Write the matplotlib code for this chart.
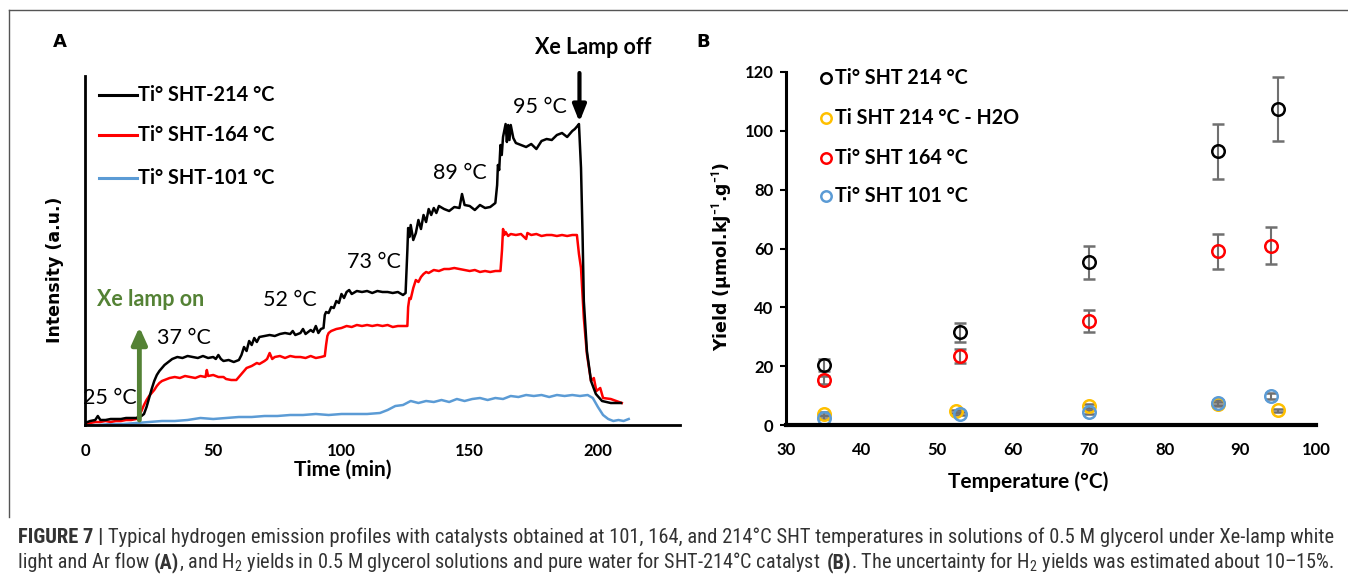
import numpy as np
import matplotlib
matplotlib.use("Agg")
import matplotlib.pyplot as plt
from matplotlib.lines import Line2D
from matplotlib import font_manager as fm

W, H = 1348, 579
entries = fm.fontManager.ttflist
names = {f.name for f in entries}
NARROW = 'DejaVu Sans'
for cand in ['Liberation Sans Narrow', 'Roboto Condensed', 'Open Sans Condensed', 'DejaVu Sans Condensed',
             'Noto Sans Condensed']:
    if cand in names:
        NARROW = cand
        break
MAIN = 'Lato' if 'Lato' in names else 'Roboto'
plt.rcParams['font.family'] = [MAIN, 'DejaVu Sans']
plt.rcParams['mathtext.fontset'] = 'custom'
plt.rcParams['mathtext.rm'] = NARROW
plt.rcParams['mathtext.bf'] = NARROW + ':bold'

# ---------------- Panel A data (time min, intensity a.u.) ----------------
black_214 = [(0,2),(2,4),(4,5),(5,9),(6,5),(8,5),(10,6),(12,6),(14,6),(16,7),(18,7),(20,7),(21,8),(22,9),(23,11),
    (24,18),(25,27),(26,36),(27,44),(28,50),(29,54),(30,57),(31,60),(32,62),(33,64),(34,66),(35,67),(36,68),(38,67),
    (40,69),(42,68),(44,67),(46,69),(48,67),(50,68),(51,66),(52,70),(53,66),(54,64),(56,65),(58,63),(60,65),(61,70),
    (62,78),(63,74),(64,84),(65,80),(66,87),(67,83),(68,88),(70,89),(72,90),(74,89),(76,91),(78,92),(80,91),(81,94),
    (82,90),(84,92),(85,96),(86,91),(88,95),(89,93),(90,99),(91,92),(92,96),(93,97),(93.5,110),(94,113),(95,112),
    (96,118),(97,117),(98,124),(99,122),(100,131),(101,127),(102,133),(103,135),(104,131),(106,134),(108,133),
    (110,134),(112,132),(114,134),(116,133),(118,133),(120,132),(122,133),(124,130),(125,132),(125.7,175),(126,197),
    (126.5,188),(127,200),(128,185),(129,192),(130,205),(131,196),(132,210),(133,203),(134,216),(135,210),(136,217),
    (137,212),(138,219),(140,216),(142,214),(144,218),(146,217),(147,231),(148,220),(150,219),(152,215),(154,220),
    (156,217),(158,218),(160,222),(160.7,240),(161,260),(161.5,255),(162,280),(162.5,270),(163,288),(164,301),
    (164.5,283),(165,300),(165.5,285),(166,300),(167,287),(168,282),(170,280),(172,278),(174,281),(176,276),
    (178,284),(180,286),(182,285),(184,290),(186,292),(188,288),(190,294),(191,296),(192,299),(192.6,301),
    (193.4,257),(194,191),(194.5,124),(195.7,74),(197.3,44),(199.2,31),(201.6,24),(205,22),(209,22)]

red_164 = [(0,1),(2,2),(4,3),(6,3),(8,4),(10,3),(12,4),(14,4),(16,5),(18,5),(20,6),(21,9),(22,14),(23,20),(24,25),
    (25,29),(26,32),(27,35),(28,39),(29,42),(30,44),(31,45),(32,46),(33,47),(35,48),(37,47),(39,49),(41,48),(43,47),
    (45,49),(47,48),(47.5,55),(48,49),(50,50),(52,48),(54,48),(55,46),(57,45),(59,45),(60,48),(61,51),(62,54),(63,57),
    (65,59),(67,62),(68,61),(70,64),(71,66),(72,72),(73,66),(74,68),(76,69),(78,67),(80,69),(82,68),(84,68),(86,67),
    (88,69),(90,67),(92,68),(93.5,69),(94,80),(94.5,89),(95,92),(96,94),(98,96),(100,97),(102,99),(104,98),(106,100),
    (108,99),(110,100),(112,99),(114,100),(116,99),(118,100),(120,98),(122,99),(124,99),(125.7,99),(126,118),
    (126.5,127),(127,126),(128,137),(129,145),(130,143),(131,148),(132,151),(133,153),(134,152),(136,155),(138,154),
    (140,156),(142,156),(144,157),(146,156),(148,155),(150,154),(152,155),(154,153),(156,154),(158,153),(160,154),
    (162,154),(162.6,175),(163,196),(163.5,190),(164,193),(165,189),(166,191),(168,190),(170,191),(172,186),
    (172.5,192),(174,190),(176,191),(178,189),(180,190),(182,190),(184,189),(186,190),(188,189),(190,190),
    (191.8,190),(192.6,171),(193.4,157),(194.5,107),(195.7,71),(197.3,44),(198.4,47),(199.4,34),(200.9,37),
    (202,27),(205,26),(209.3,22)]

blue_101 = [(0,0),(5,0),(10,1),(15,1),(20,2),(25,3),(30,4),(35,4),(40,5),(45,7),(50,6),(55,7),(60,8),(65,8),(70,9),
    (75,9),(80,10),(85,10),(90,11),(95,10),(100,11),(105,11),(110,11),(115,12),(118,15),(121,19),(124,20),(127,24),
    (130,22),(133,24),(136,23),(139,25),(142,23),(145,26),(148,24),(151,26),(154,27),(157,25),(160,27),(163,26),
    (166,29),(169,28),(172,30),(175,29),(178,30),(181,28),(184,30),(187,29),(190,30),(193,29),(196,30),(198,27),
    (200,18),(202,10),(204,6),(206,4),(208,5),(210,4),(212,6)]

labels_A = ['Ti° SHT-214 °C', 'Ti° SHT-164 °C', 'Ti° SHT-101 °C']
xticks_A = [0, 50, 100, 150, 200]

# ---------------- Panel B data (temperature °C, yield) ----------------
t214 = [35, 53, 70, 87, 95]
y214 = [20.3, 31.5, 55.3, 93.0, 107.5]
e214 = [2.0, 3.2, 5.6, 9.3, 10.8]
t214w = [35, 52.5, 70, 87, 95]
y214w = [3.8, 4.7, 6.5, 7.0, 5.0]
e214w = [0.5, 0.5, 0.6, 0.7, 0.5]
t164 = [35, 53, 70, 87, 94]
y164 = [15.3, 23.5, 35.4, 59.0, 61.0]
e164 = [1.5, 2.4, 3.7, 5.9, 6.2]
t101 = [35, 53, 70, 87, 94]
y101 = [2.5, 3.8, 4.5, 7.6, 10.0]
e101 = [0.5, 0.5, 0.6, 0.8, 1.0]
labels_B = ['Ti° SHT 214 °C', 'Ti SHT 214 °C - H2O', 'Ti° SHT 164 °C', 'Ti° SHT 101 °C']
xticks_B = [30, 40, 50, 60, 70, 80, 90, 100]
yticks_B = [0, 20, 40, 60, 80, 100, 120]

C_BLACK, C_RED, C_BLUE, C_YEL = '#000000', '#ff0000', '#5b9bd5', '#ffc000'
C_GREEN = '#548235'

def fx(px): return px / W
def fy(py): return 1 - py / H

fig = plt.figure(figsize=(W/100, H/100), dpi=100)

# frame
fig.add_artist(Line2D([fx(9), 1.0], [fy(10), fy(10)], color='#555555', lw=1.0))
fig.add_artist(Line2D([fx(9), fx(9)], [fy(10), fy(517)], color='#555555', lw=1.0))

# ---------------- Panel A ----------------
axA = fig.add_axes([fx(85), fy(425), fx(680) - fx(85), fy(76) - fy(425)])
for data, col in [(blue_101, C_BLUE), (red_164, C_RED), (black_214, C_BLACK)]:
    arr = np.array(data)
    axA.plot(arr[:, 0], arr[:, 1], color=col, lw=1.8, solid_joinstyle='round')
axA.set_xlim(0, 232)
axA.set_ylim(0, 349)
for s in ['top', 'right']:
    axA.spines[s].set_visible(False)
axA.spines['left'].set_linewidth(2.0)
axA.spines['bottom'].set_linewidth(2.0)
axA.set_yticks([])
axA.set_xticks(xticks_A)
axA.tick_params(axis='x', length=0, pad=13, labelsize=12)
for lab in axA.get_xticklabels():
    lab.set_fontweight('bold')
fig.text(fx(343), fy(470), 'Time (min)', ha='center', va='center', fontsize=15, fontweight='bold')
fig.text(fx(55), fy(270), 'Intensity (a.u.)', ha='center', va='center', rotation=90,
         fontsize=12.5, fontweight='bold', family='DejaVu Sans')
fig.text(fx(60), fy(42), 'A', ha='center', va='center', fontsize=13, fontweight='bold', family='DejaVu Sans')

# legend A
for lab, col, py in zip(labels_A, [C_BLACK, C_RED, C_BLUE], [95, 135, 178]):
    fig.add_artist(Line2D([fx(99), fx(137)], [fy(py), fy(py)], color=col, lw=2.2))
    fig.text(fx(138), fy(py), lab, ha='left', va='center', fontsize=14.3, fontweight='bold')

# temperature annotations
for txt, px, py in [('25 °C', 110, 398), ('37 °C', 184, 338), ('52 °C', 290, 300), ('73 °C', 374, 262),
                    ('89 °C', 460, 173), ('95 °C', 540, 107)]:
    fig.text(fx(px), fy(py), txt, ha='center', va='center', fontsize=15.5)
fig.text(fx(593), fy(47), 'Xe Lamp off', ha='center', va='center', fontsize=15.5, fontweight='bold')
fig.text(fx(151), fy(300), 'Xe lamp on', ha='center', va='center', fontsize=15.5, color=C_GREEN, fontweight='bold')

axA.annotate('', xy=(21.2, 98), xytext=(21.2, 5),
             arrowprops=dict(arrowstyle='-|>,head_width=0.45,head_length=1.0', lw=3.5, color=C_GREEN,
                             shrinkA=0, shrinkB=0), annotation_clip=False)
axA.annotate('', xy=(192.8, 303), xytext=(192.8, 352),
             arrowprops=dict(arrowstyle='-|>,head_width=0.4,head_length=1.0', lw=3.0, color='black',
                             shrinkA=0, shrinkB=0), annotation_clip=False)

# ---------------- Panel B ----------------
axB = fig.add_axes([fx(786), fy(425), fx(1316) - fx(786), fy(72) - fy(425)])
ekw = dict(ecolor='#707070', elinewidth=1.5, capsize=4, capthick=1.5, ls='none', marker='o', ms=9,
           mfc='none', mew=1.8)
axB.errorbar(t214, y214, yerr=e214, mec=C_BLACK, **ekw)
axB.errorbar(t164, y164, yerr=e164, mec=C_RED, **ekw)
axB.errorbar(t214w, y214w, yerr=e214w, mec=C_YEL, **ekw)
axB.errorbar(t101, y101, yerr=e101, mec=C_BLUE, **ekw)
axB.set_xlim(30, 100)
axB.set_ylim(0, 120)
for s in ['top', 'right']:
    axB.spines[s].set_visible(False)
axB.spines['left'].set_linewidth(2.2)
axB.spines['bottom'].set_linewidth(3.0)
axB.set_xticks(xticks_B)
axB.set_yticks(yticks_B)
axB.tick_params(axis='x', length=0, pad=12, labelsize=12)
axB.tick_params(axis='y', length=4, width=1.5, pad=5, labelsize=12)
for lab in axB.get_xticklabels() + axB.get_yticklabels():
    lab.set_fontweight('bold')
fig.text(fx(1028), fy(482), 'Temperature (°C)', ha='center', va='center', fontsize=15, fontweight='bold')
fig.text(fx(722), fy(256), r'Yield (µmol.kJ$^{\mathbf{-1}}$.g$^{\mathbf{-1}}$)', ha='center', va='center',
         rotation=90, fontsize=12.5, fontweight='bold', family='DejaVu Sans')
fig.text(fx(703), fy(42), 'B', ha='center', va='center', fontsize=13, fontweight='bold', family='DejaVu Sans')

for lab, col, py in zip(labels_B, [C_BLACK, C_YEL, C_RED, C_BLUE], [78, 118, 158, 196]):
    fig.add_artist(Line2D([fx(826)], [fy(py)], marker='o', ms=7.5, mfc='none', mec=col, mew=1.8, ls='none'))
    fig.text(fx(835), fy(py), lab, ha='left', va='center', fontsize=14.2, fontweight='bold')

# ---------------- Caption ----------------
line1 = [('FIGURE 7 | ', 'bold'),
         ('Typical hydrogen emission profiles with catalysts obtained at 101, 164, and 214°C SHT temperatures '
          'in solutions of 0.5 M glycerol under Xe-lamp white', 'normal')]
line2 = [('light and Ar flow ', 'normal'), ('(A)', 'bold'),
         (', and H$_2$ yields in 0.5 M glycerol solutions and pure water for SHT-214°C catalyst ', 'normal'),
         ('(B)', 'bold'), ('. The uncertainty for H$_2$ yields was estimated about 10–15%.', 'normal')]

fig.canvas.draw()
renderer = fig.canvas.get_renderer()

def place(segments, x0, py, fs, color='#333333'):
    x = x0
    arts = []
    for s, wgt in segments:
        t = fig.text(x / W, fy(py), s, ha='left', va='baseline', fontsize=fs, fontweight=wgt, color=color,
                     family=[NARROW, 'DejaVu Sans'])
        bb = t.get_window_extent(renderer=renderer)
        x = bb.x1
        if '$' in s and s.endswith(' '):
            x += 0.28 * fs * 100 / 72
        arts.append(t)
    return x, arts

def fit(segments, py, target_right):
    fs = 12
    xend, arts = place(segments, 18, py, fs)
    for a in arts:
        a.remove()
    fs2 = fs * (target_right - 18) / (xend - 18)
    place(segments, 18, py, fs2)

fit(line1, 543, 1330)
fit(line2, 568, 1333)

fig.savefig('out.png', dpi=100)
